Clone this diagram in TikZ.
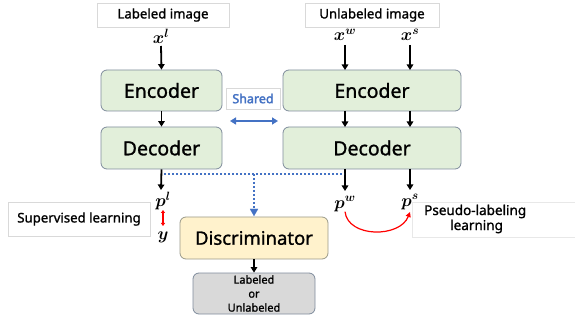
\documentclass[tikz,border=0pt]{standalone}
\usepackage{fontspec}
\setmainfont{Noto Sans}[AutoFakeBold=2.5]
\newfontfamily\medfont{Noto Sans}[FakeBold=1.2]
\usepackage{bm}
\usetikzlibrary{arrows.meta}
\definecolor{encfill}{HTML}{E2EFDA}
\definecolor{encdraw}{HTML}{7F8C9C}
\definecolor{discfill}{HTML}{FFF2CC}
\definecolor{discdraw}{HTML}{9A9A8A}
\definecolor{outfill}{HTML}{D9D9D9}
\definecolor{outdraw}{HTML}{7F8C9C}
\definecolor{myblue}{HTML}{4472C4}
\definecolor{lblgray}{HTML}{D9D9D9}
\tikzset{
  block/.style={draw=encdraw, fill=encfill, rounded corners=6pt, line width=0.8pt, inner sep=0pt, font=\medfont\fontsize{19.5}{22}\selectfont},
  discbox/.style={draw=discdraw, fill=discfill, rounded corners=6pt, line width=0.8pt, inner sep=0pt, font=\medfont\fontsize{18.5}{21}\selectfont},
  outbox/.style={draw=outdraw, fill=outfill, rounded corners=6pt, line width=0.8pt, inner sep=0pt, align=center, font=\medfont\fontsize{11}{14}\selectfont},
  lblbox/.style={draw=lblgray, fill=white, line width=0.5pt, inner sep=0pt, font=\medfont\fontsize{13.2}{15}\selectfont},
  mathlbl/.style={inner sep=0pt, font=\fontsize{18}{20}\selectfont},
  arr/.style={-{Triangle[length=5.5pt,width=6.5pt]}, line width=1.8pt, black},
  bluedot/.style={myblue, line width=1.8pt, dash pattern=on 2pt off 2pt},
}
\begin{document}
\begin{tikzpicture}[x=1pt,y=-1pt]
\useasboundingbox (0,0) rectangle (575,320);

% top labels
\node[lblbox, minimum width=132pt, minimum height=24pt] (limg) at (163,15) {Labeled image};
\node[lblbox, minimum width=134pt, minimum height=24pt] (uimg) at (372,15) {Unlabeled image};

% inputs
\node[mathlbl] (xl) at (161,36) {$\bm{x}^{\bm{l}}$};
\node[mathlbl] (xw) at (345,35) {$\bm{x}^{\bm{w}}$};
\node[mathlbl] (xs) at (410,35) {$\bm{x}^{\bm{s}}$};

% encoders / decoders
\node[block, minimum width=121pt, minimum height=41pt] (encL) at (161.5,90.5) {Encoder};
\node[block, minimum width=121pt, minimum height=42pt] (decL) at (161.5,148) {Decoder};
\node[block, minimum width=178pt, minimum height=41pt] (encR) at (372,90.5) {Encoder};
\node[block, minimum width=178pt, minimum height=42pt] (decR) at (372,148) {Decoder};

% shared
\node[lblbox, text=myblue, font=\fontsize{12.5}{14}\selectfont\bfseries, minimum width=54pt, minimum height=21pt] (shared) at (253,98.5) {Shared};
\coordinate (shL) at (230,121);
\coordinate (shR) at (278,121);
\draw[myblue, line width=2pt, {Triangle[length=6pt,width=7pt]}-{Triangle[length=6pt,width=7pt]}] (shL) -- (shR);

% input arrows
\draw[arr] (161,46) -- (encL.north);
\draw[arr] (345,45) -- (345,70);
\draw[arr] (410,45) -- (410,70);
\draw[arr] (encL.south) -- (decL.north);
\draw[arr] (345,111) -- (345,127);
\draw[arr] (410,111) -- (410,127);

% outputs
\node[mathlbl] (pl) at (163,201) {$\bm{p}^{\bm{l}}$};
\node[mathlbl] (yy) at (163,237) {$\bm{y}$};
\node[mathlbl] (pw) at (345,204) {$\bm{p}^{\bm{w}}$};
\node[mathlbl] (ps) at (410,202) {$\bm{p}^{\bm{s}}$};

\draw[arr] (decL.south) -- (161,190);
\draw[arr] (345,169) -- (345,191);
\draw[arr] (410,169) -- (410,190);

% supervised
\node[lblbox, minimum width=142pt, minimum height=34pt] (sup) at (79,219) {Supervised learning};
\draw[red, line width=1.2pt, {Triangle[length=3pt,width=4pt]}-{Triangle[length=3pt,width=4pt]}] (163,210) -- (163,226);

% pseudo labeling
\node[lblbox, draw=lblgray!60, minimum width=165pt, minimum height=35pt, anchor=west] (pseudo) at (412,219.5) {};
\node[inner sep=0pt, anchor=west, font=\medfont\fontsize{13.5}{15}\selectfont, align=left] (pstext) at (424,219) {Pseudo-labeling\\\hspace*{26pt}learning};
\draw[red, line width=1.2pt, -{Triangle[length=5pt,width=5pt]}] (pw.south) .. controls (348,238) and (400,238) .. (410,212);

% discriminator
\node[discbox, minimum width=148pt, minimum height=42pt] (disc) at (254,238) {Discriminator};
\node[outbox, minimum width=122pt, minimum height=41pt] (out) at (254,293.5) {Labeled\\or\\Unlabeled};
\draw[arr] (disc.south) -- (out.north);

% dotted blue
\coordinate (dL) at (164,174);
\coordinate (dR) at (344,174);
\coordinate (dM) at (254,174);
\draw[bluedot] (dL) -- (dR);
\draw[bluedot] (dM) -- (254,210);
\draw[myblue, line width=0.1pt, fill=myblue] (250,209) -- (258,209) -- (254,216) -- cycle;
\end{tikzpicture}
\end{document}
